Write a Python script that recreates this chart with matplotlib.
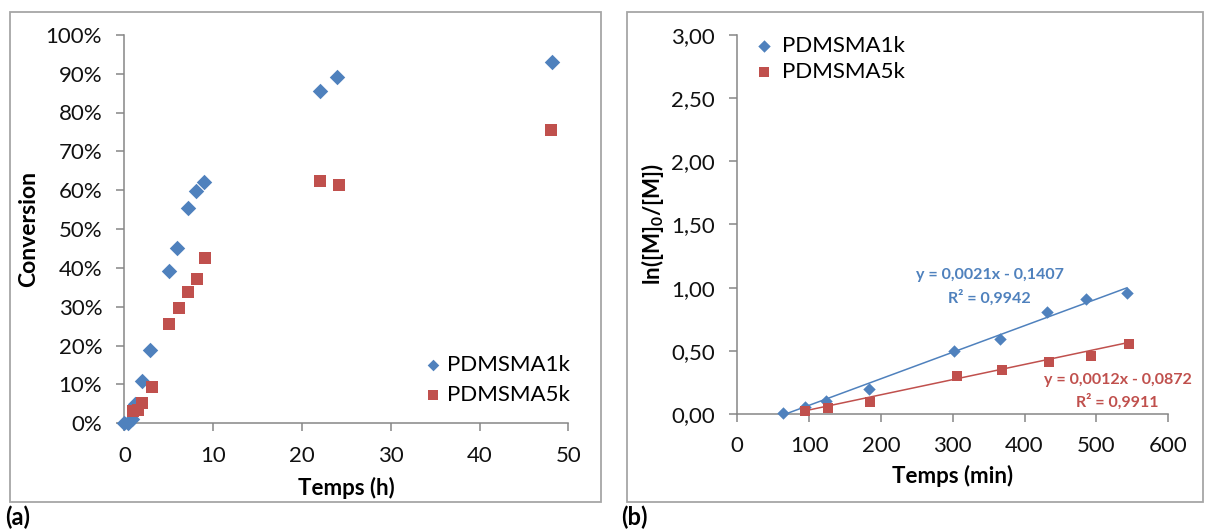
import matplotlib
matplotlib.use("Agg")
import matplotlib.pyplot as plt
import numpy as np
from matplotlib.patches import Rectangle
from matplotlib.ticker import FuncFormatter, MultipleLocator

plt.rcParams['font.family'] = ['Lato', 'DejaVu Sans']
plt.rcParams['mathtext.fontset'] = 'custom'
plt.rcParams['mathtext.rm'] = 'Lato'
plt.rcParams['mathtext.bf'] = 'Lato:bold'
plt.rcParams['mathtext.default'] = 'bf'

# (a) conversion vs time (h)
t_1k = [0.0, 0.4, 0.9, 1.2, 2.0, 2.9, 5.0, 5.9, 7.2, 8.1, 9.0, 22.0, 24.0, 48.2]
conv_1k = [0.0, 0.002, 0.01, 0.05, 0.109, 0.189, 0.393, 0.450, 0.554, 0.597, 0.620, 0.855, 0.891, 0.931]
t_5k = [1.0, 1.5, 2.0, 3.1, 5.0, 6.1, 7.2, 8.2, 9.1, 22.0, 24.2, 48.1]
conv_5k = [0.032, 0.033, 0.053, 0.093, 0.256, 0.296, 0.339, 0.372, 0.426, 0.623, 0.614, 0.755]

# (b) ln([M]0/[M]) vs time (min)
tm_1k = [63.5, 94.2, 123.8, 183, 302, 366, 431, 485.5, 542.5]
ln_1k = [0.005, 0.053, 0.107, 0.20, 0.50, 0.594, 0.81, 0.909, 0.96]
tm_5k = [94.2, 126.5, 184.6, 305.7, 369, 433.8, 492.5, 546]
ln_5k = [0.027, 0.045, 0.094, 0.30, 0.348, 0.409, 0.463, 0.553]

fit_1k = (0.0021, -0.1407, 0.9942)
fit_5k = (0.0012, -0.0872, 0.9911)

blue = '#4F81BD'
red = '#C0504D'
axis_grey = '#868686'
W, H = 1206, 530

fig = plt.figure(figsize=(W / 100, H / 100), dpi=100)


def px_axes(x0, y0, x1, y1):
    return fig.add_axes([x0 / W, 1 - y1 / H, (x1 - x0) / W, (y1 - y0) / H])


def style(ax):
    for s in ['top', 'right']:
        ax.spines[s].set_visible(False)
    for s in ['left', 'bottom']:
        ax.spines[s].set_color(axis_grey)
        ax.spines[s].set_linewidth(1.1)
    ax.tick_params(direction='out', length=6, width=1.1, color=axis_grey,
                   labelsize=16, pad=10, labelcolor='#111111')


# outer frames
for (x0, y0, x1, y1) in [(9.6, 11.8, 601, 502), (627, 11.8, 1203, 502)]:
    fig.add_artist(Rectangle((x0 / W, 1 - y1 / H), (x1 - x0) / W, (y1 - y0) / H,
                             transform=fig.transFigure, fill=False,
                             ec='#A6A6A6', lw=1.3))

# ---- (a)
ax1 = px_axes(124.4, 34.8, 568.3, 423.3)
style(ax1)
ax1.scatter(t_1k, conv_1k, marker='D', s=62, color=blue, label='PDMSMA1k',
            clip_on=False, zorder=3, linewidths=0)
ax1.scatter(t_5k, conv_5k, marker='s', s=76, color=red, label='PDMSMA5k',
            clip_on=False, zorder=3, linewidths=0)
ax1.set_xlim(0, 50)
ax1.set_ylim(0, 1)
ax1.xaxis.set_major_locator(MultipleLocator(10))
ax1.yaxis.set_major_locator(MultipleLocator(0.1))
ax1.yaxis.set_major_formatter(FuncFormatter(lambda v, p: f"{v * 100:.0f}%"))
ax1.set_xlabel('Temps (h)', fontsize=16, fontweight='bold', labelpad=8)
ax1.set_ylabel('Conversion', fontsize=16.5, fontweight='bold', labelpad=5)
ax1.legend(loc='center left', bbox_to_anchor=(415 / W, 1 - 380 / H),
           bbox_transform=fig.transFigure, frameon=False, fontsize=16,
           borderpad=0, handlelength=0.6, handletextpad=0.35,
           labelspacing=0.45, markerscale=0.75)

# ---- (b)
ax2 = px_axes(737.2, 34.8, 1168.2, 414.1)
style(ax2)
ax2.scatter(tm_1k, ln_1k, marker='D', s=40, color=blue, label='PDMSMA1k',
            clip_on=False, zorder=3, linewidths=0)
ax2.scatter(tm_5k, ln_5k, marker='s', s=56, color=red, label='PDMSMA5k',
            clip_on=False, zorder=3, linewidths=0)
for xs, (a, b, r2), c in [(tm_1k, fit_1k, blue), (tm_5k, fit_5k, red)]:
    xx = np.array([min(xs), max(xs)])
    ax2.plot(xx, a * xx + b, color=c, lw=1.1, zorder=2)
ax2.set_xlim(0, 600)
ax2.set_ylim(0, 3)
ax2.xaxis.set_major_locator(MultipleLocator(100))
ax2.yaxis.set_major_locator(MultipleLocator(0.5))
ax2.yaxis.set_major_formatter(FuncFormatter(lambda v, p: f"{v:.2f}".replace('.', ',')))
ax2.set_xlabel('Temps (min)', fontsize=16, fontweight='bold', labelpad=6)
ax2.set_ylabel('ln([M]$_0$/[M])', fontsize=16, fontweight='bold', labelpad=4)
ax2.legend(loc='center left', bbox_to_anchor=(746 / W, 1 - 59 / H),
           bbox_transform=fig.transFigure, frameon=False, fontsize=16,
           borderpad=0, handlelength=0.6, handletextpad=0.5,
           labelspacing=0.28, markerscale=1.0)


def fmt(v, n):
    return f"{abs(v):.{n}f}".replace('.', ',')


ax2.text(351.5, 1.104, f"y = {fmt(fit_1k[0], 4)}x - {fmt(fit_1k[1], 4)}", color=blue,
         fontsize=11.5, fontweight='bold', ha='center', va='center')
ax2.text(351.5, 0.921, f"R² = {fmt(fit_1k[2], 4)}", color=blue,
         fontsize=11.5, fontweight='bold', ha='center', va='center')
ax2.text(530, 0.270, f"y = {fmt(fit_5k[0], 4)}x - {fmt(fit_5k[1], 4)}", color=red,
         fontsize=11.5, fontweight='bold', ha='center', va='center')
ax2.text(529.4, 0.098, f"R² = {fmt(fit_5k[2], 4)}", color=red,
         fontsize=11.5, fontweight='bold', ha='center', va='center')

fig.text(5 / W, 1 - 517 / H, '(a)', fontsize=17, fontweight='bold', va='center', ha='left')
fig.text(621 / W, 1 - 517 / H, '(b)', fontsize=17, fontweight='bold', va='center', ha='left')

fig.savefig('out.png', dpi=100)
